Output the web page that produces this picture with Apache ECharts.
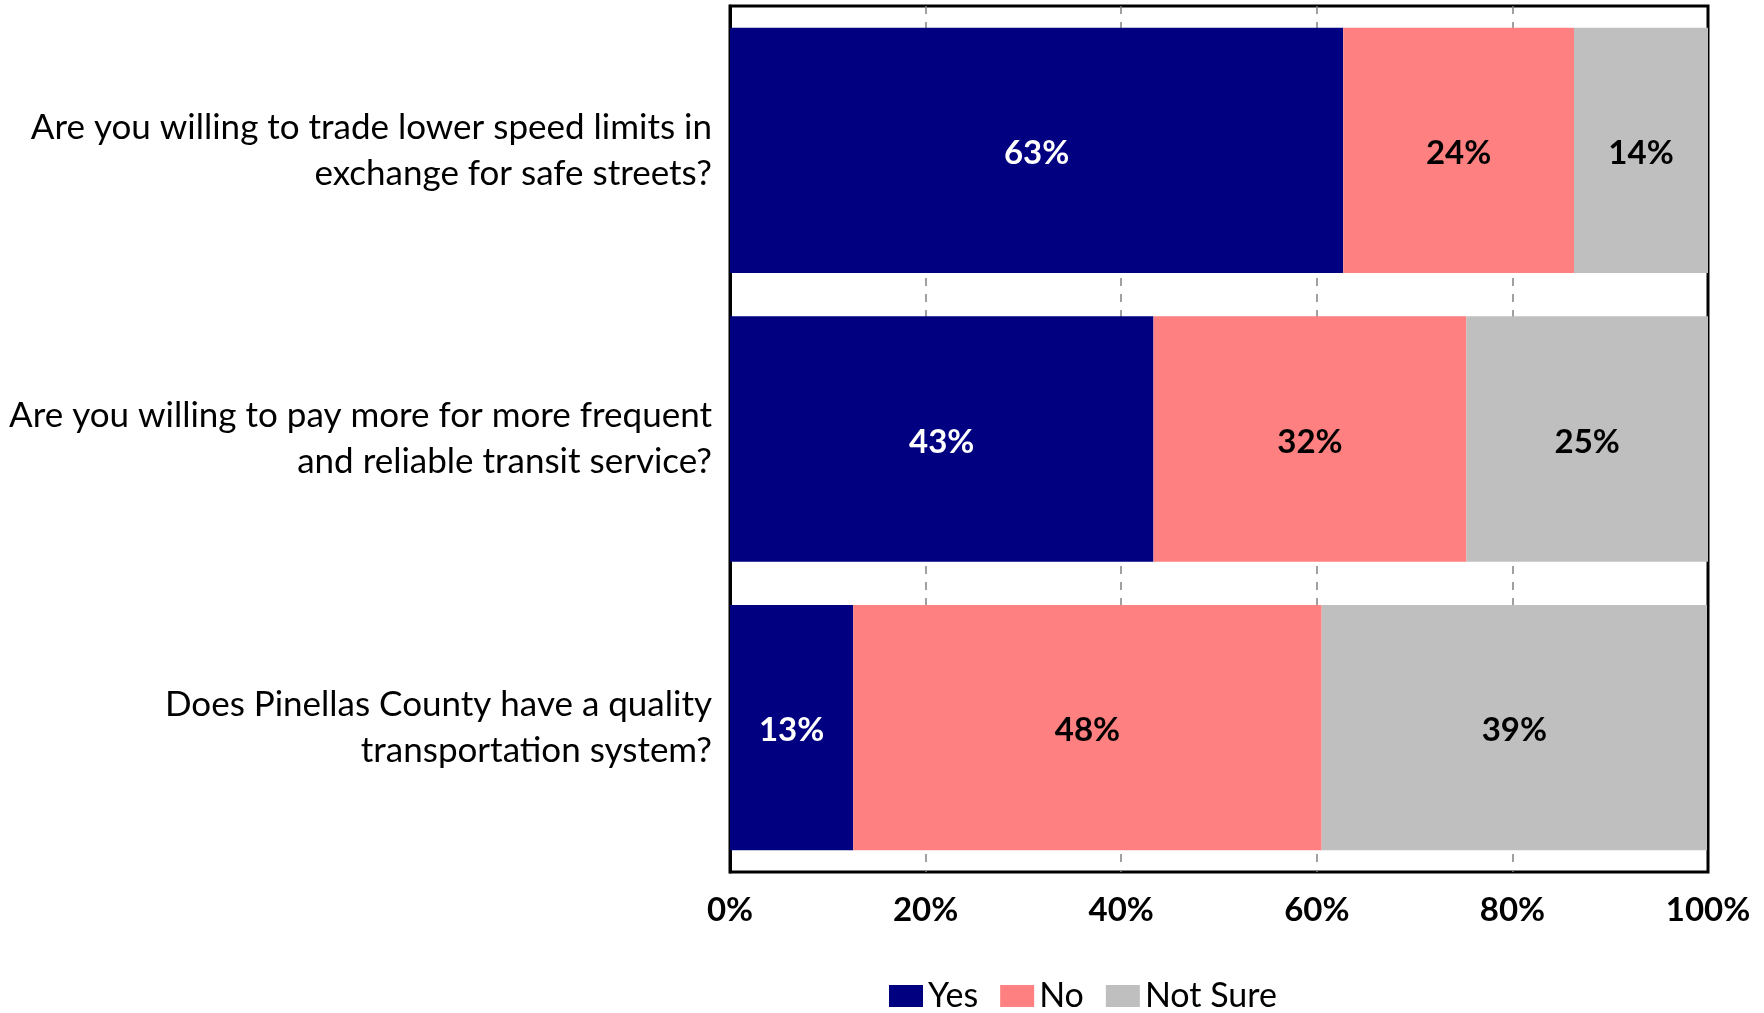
<!DOCTYPE html>
<html>
<head>
<meta charset="utf-8">
<script src="https://cdn.jsdelivr.net/npm/echarts@6/dist/echarts.min.js"></script>
<style>
html,body{margin:0;padding:0;background:#fff;}
#chart{width:1764px;height:1013px;}
</style>
</head>
<body>
<div id="chart"></div>
<script>
const categories = [
  "Are you willing to trade lower speed limits in\nexchange for safe streets?",
  "Are you willing to pay more for more frequent\nand reliable transit service?",
  "Does Pinellas County have a quality\ntransportation system?"
];
const seriesNames = ["Yes", "No", "Not Sure"];
const yesValues = [62.7, 43.3, 12.6];
const noValues = [23.6, 32.0, 47.9];
const notSureValues = [13.7, 24.7, 39.4];
const xTicks = [0, 20, 40, 60, 80, 100];
const colors = ["#000080", "#FF8080", "#BFBFBF"];
const labelColors = ["#ffffff", "#000000", "#000000"];

const chart = echarts.init(document.getElementById('chart'));
const valueSets = [yesValues, noValues, notSureValues];
const FONT = 'Lato';

const series = seriesNames.map((name, i) => ({
  name: name,
  type: 'bar',
  stack: 'total',
  barCategoryGap: '15%',
  data: valueSets[i],
  itemStyle: { color: colors[i] },
  label: {
    show: true,
    position: 'inside',
    offset: [0, 3],
    formatter: p => Math.round(p.value) + '%',
    color: labelColors[i],
    fontFamily: FONT,
    fontWeight: 'bold',
    fontSize: 33
  },
  emphasis: { disabled: true },
  animation: false
}));

chart.setOption({
  animation: false,
  backgroundColor: '#ffffff',
  color: colors,
  grid: {
    left: 730, right: 56, top: 6, bottom: 141,
    show: true, borderColor: '#000', borderWidth: 3, backgroundColor: 'transparent'
  },
  legend: {
    data: seriesNames,
    left: 884,
    bottom: -5,
    itemWidth: 34,
    itemHeight: 22,
    itemGap: 22,
    icon: 'rect',
    textStyle: { fontFamily: FONT, fontSize: 34, color: '#000' }
  },
  xAxis: {
    type: 'value',
    min: 0, max: 100, interval: 20,
    axisLine: { show: false },
    axisTick: { show: false },
    splitLine: { show: true, showMinLine: false, showMaxLine: false, lineStyle: { color: '#808080', type: [8, 8], width: 1.5 } },
    axisLabel: {
      formatter: v => xTicks.includes(v) ? v + '%' : '',
      fontFamily: FONT, fontWeight: 'bold', fontSize: 33, color: '#000', margin: 22
    }
  },
  yAxis: {
    type: 'category',
    inverse: true,
    data: categories,
    axisLine: { show: true, lineStyle: { color: '#000', width: 3 } },
    axisTick: { show: false },
    axisLabel: {
      fontFamily: FONT, fontSize: 35, color: '#000', lineHeight: 46, margin: 18, align: 'right',
      padding: [12, 0, 0, 0]
    }
  },
  series: series
});
</script>
</body>
</html>
